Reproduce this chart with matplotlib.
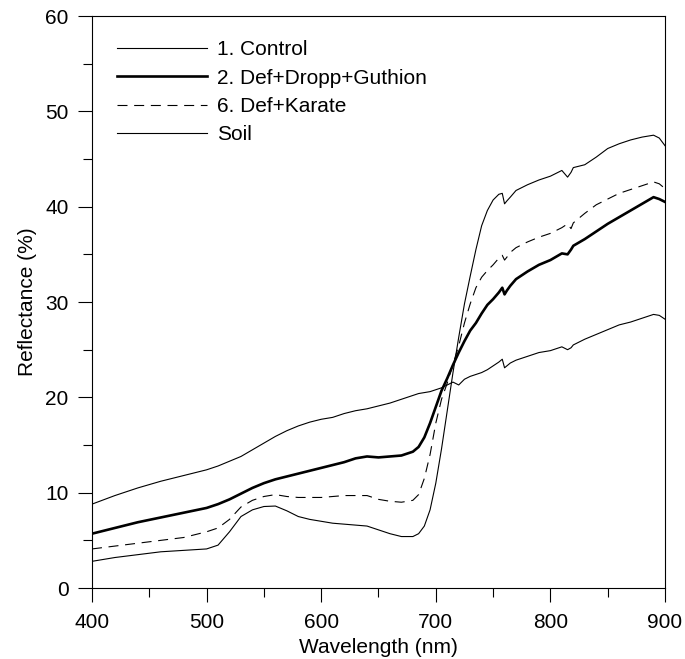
import matplotlib
matplotlib.use('Agg')
from matplotlib import pyplot as plt
from matplotlib.ticker import MultipleLocator

plt.rcParams['font.family'] = ['Liberation Sans', 'DejaVu Sans']
plt.rcParams['font.size'] = 15

XLABEL = 'Wavelength (nm)'
YLABEL = 'Reflectance (%)'
FIGSIZE = (6.85, 6.59)

wavelength = [400, 420, 440, 460, 480, 500, 510, 520, 530, 540, 550, 560,
              570, 580, 590, 600, 610, 620, 630, 640, 650, 660, 670, 680,
              685, 690, 695, 700, 705, 710, 715, 720, 725, 730, 735, 740,
              745, 750, 755, 758, 760, 762, 765, 770, 780, 790, 800, 810,
              815, 818, 820, 830, 840, 850, 860, 870, 880, 890, 895, 900]

control = [2.8, 3.2, 3.5, 3.8, 3.95, 4.1, 4.5, 5.9, 7.5, 8.2, 8.55, 8.6,
           8.1, 7.5, 7.2, 7.0, 6.8, 6.7, 6.6, 6.5, 6.1, 5.7, 5.4, 5.4,
           5.7, 6.5, 8.2, 11.0, 14.6, 18.6, 22.6, 26.3, 29.8, 32.7, 35.5, 38.0,
           39.6, 40.7, 41.3, 41.4, 40.3, 40.6, 41.0, 41.7, 42.3, 42.8, 43.2, 43.8,
           43.1, 43.6, 44.1, 44.4, 45.2, 46.1, 46.6, 47.0, 47.3, 47.5, 47.2, 46.4]

dropp_guthion = [5.7, 6.3, 6.9, 7.4, 7.9, 8.4, 8.8, 9.3, 9.9, 10.5, 11.0, 11.4,
                 11.7, 12.0, 12.3, 12.6, 12.9, 13.2, 13.6, 13.8, 13.7, 13.8, 13.9, 14.3,
                 14.8, 15.8, 17.3, 19.0, 20.7, 22.0, 23.4, 24.7, 25.9, 27.0, 27.8, 28.8,
                 29.7, 30.3, 31.0, 31.5, 30.8, 31.2, 31.7, 32.4, 33.2, 33.9, 34.4, 35.1,
                 35.0, 35.5, 35.9, 36.6, 37.4, 38.2, 38.9, 39.6, 40.3, 41.0, 40.8, 40.5]

karate = [4.1, 4.4, 4.7, 5.0, 5.3, 5.9, 6.3, 7.2, 8.5, 9.2, 9.6, 9.8,
          9.6, 9.5, 9.5, 9.5, 9.6, 9.7, 9.7, 9.7, 9.3, 9.1, 9.0, 9.2,
          9.8, 11.5, 14.0, 17.3, 19.8, 21.5, 23.5, 25.4, 27.8, 29.8, 31.5, 32.6,
          33.3, 33.9, 34.6, 34.9, 34.4, 34.7, 35.2, 35.7, 36.3, 36.8, 37.2, 37.8,
          38.2, 37.7, 38.3, 39.3, 40.2, 40.8, 41.4, 41.8, 42.2, 42.6, 42.4, 41.9]

soil = [8.8, 9.7, 10.5, 11.2, 11.8, 12.4, 12.8, 13.3, 13.8, 14.5, 15.2, 15.9,
        16.5, 17.0, 17.4, 17.7, 17.9, 18.3, 18.6, 18.8, 19.1, 19.4, 19.8, 20.2,
        20.4, 20.5, 20.6, 20.8, 21.0, 21.3, 21.6, 21.3, 21.9, 22.2, 22.4, 22.6,
        22.9, 23.3, 23.7, 24.0, 23.1, 23.3, 23.6, 23.9, 24.3, 24.7, 24.9, 25.3,
        25.0, 25.2, 25.5, 26.1, 26.6, 27.1, 27.6, 27.9, 28.3, 28.7, 28.6, 28.2]

SERIES = [
    ('1. Control', control, dict(linewidth=0.8)),
    ('2. Def+Dropp+Guthion', dropp_guthion, dict(linewidth=1.9)),
    ('6. Def+Karate', karate, dict(linewidth=0.8, dashes=(9, 6))),
    ('Soil', soil, dict(linewidth=0.8)),
]


def plot_spectra():
    fig = plt.figure(figsize=FIGSIZE, dpi=100)
    ax = fig.add_axes([0.1343, 0.1077, 0.8365, 0.868])

    for label, values, style in SERIES:
        ax.plot(wavelength, values, color='black', label=label, **style)

    ax.set_xlim(400, 900)
    ax.set_ylim(0, 60)
    ax.xaxis.set_major_locator(MultipleLocator(100))
    ax.xaxis.set_minor_locator(MultipleLocator(50))
    ax.yaxis.set_major_locator(MultipleLocator(10))
    ax.yaxis.set_minor_locator(MultipleLocator(5))
    ax.tick_params(which='both', direction='out', top=False, right=False, width=0.8)
    ax.tick_params(which='major', length=10)
    ax.tick_params(which='minor', length=6.5)
    ax.tick_params(axis='x', pad=8)
    ax.tick_params(axis='y', pad=7)
    for spine in ax.spines.values():
        spine.set_linewidth(0.8)

    ax.set_xlabel(XLABEL, labelpad=4)
    ax.set_ylabel(YLABEL, labelpad=6)

    ax.legend(loc='upper left', bbox_to_anchor=(0.0436, 0.9575), frameon=False,
              borderpad=0, borderaxespad=0, handlelength=4.3, handletextpad=0.5,
              labelspacing=0.45)

    plt.savefig('out.png')


plot_spectra()
